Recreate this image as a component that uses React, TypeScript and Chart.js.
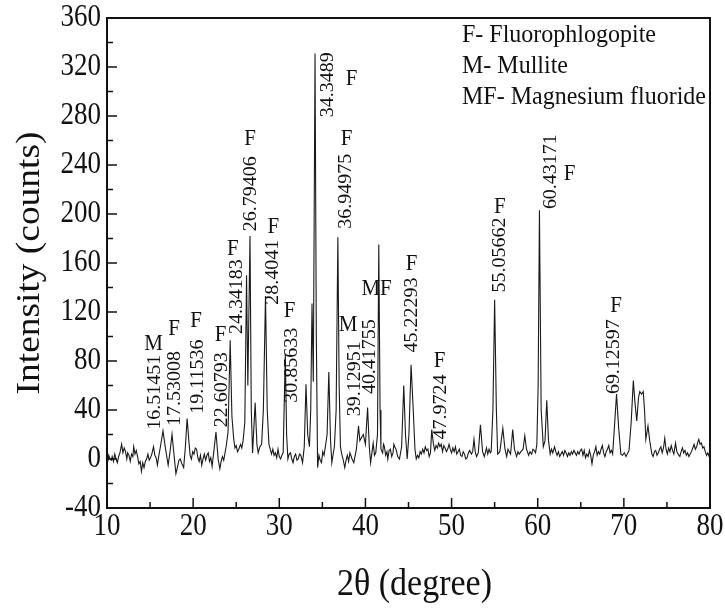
import React, { useEffect, useRef } from "react";
import { Chart, registerables } from "chart.js";
Chart.register(...registerables);

const twoTheta = [
  10.0, 10.1, 10.2, 10.35, 10.5, 10.6, 10.75, 10.9, 11.05, 11.2,
  11.35, 11.5, 11.7, 11.85, 12.0, 12.15, 12.3, 12.4, 12.55, 12.7,
  12.85, 13.0, 13.1, 13.25, 13.4, 13.55, 13.7, 13.85, 14.0, 14.15,
  14.3, 14.45, 14.6, 14.75, 14.9, 15.05, 15.2, 15.4, 15.55, 15.7,
  15.85, 16.0, 16.2, 16.5, 16.8, 17.1, 17.3, 17.55, 17.8, 18.0,
  18.2, 18.35, 18.5, 18.7, 18.9, 19.1, 19.3, 19.5, 19.65, 19.8,
  19.95, 20.1, 20.25, 20.4, 20.55, 20.7, 20.85, 21.0, 21.15, 21.3,
  21.45, 21.6, 21.75, 21.9, 22.05, 22.2, 22.4, 22.65, 22.9, 23.1,
  23.25, 23.4, 23.55, 23.7, 23.85, 24.05, 24.3, 24.5, 24.7, 24.85,
  25.0, 25.15, 25.3, 25.5, 25.65, 25.8, 26.0, 26.2, 26.35, 26.6,
  26.75, 26.9, 27.2, 27.4, 27.55, 27.75, 27.95, 28.15, 28.4, 28.6,
  28.8, 28.95, 29.1, 29.25, 29.4, 29.55, 29.7, 29.85, 30.0, 30.15,
  30.3, 30.45, 30.7, 30.85, 31.0, 31.15, 31.3, 31.45, 31.6, 31.75,
  31.9, 32.05, 32.2, 32.35, 32.5, 32.7, 32.9, 33.1, 33.3, 33.5,
  33.65, 33.8, 33.95, 34.15, 34.3, 34.45, 34.6, 34.75, 34.9, 35.05,
  35.2, 35.35, 35.55, 35.75, 35.95, 36.1, 36.25, 36.4, 36.6, 36.8,
  36.95, 37.1, 37.25, 37.4, 37.6, 37.75, 37.9, 38.05, 38.2, 38.45,
  38.65, 38.95, 39.2, 39.35, 39.5, 39.75, 40.0, 40.25, 40.45, 40.6,
  40.75, 40.9, 41.05, 41.2, 41.4, 41.55, 41.7, 41.8, 42.0, 42.1,
  42.2, 42.35, 42.5, 42.6, 42.75, 42.9, 43.05, 43.2, 43.3, 43.4,
  43.55, 43.75, 43.95, 44.2, 44.45, 44.65, 44.85, 45.05, 45.3, 45.55,
  45.75, 45.9, 46.05, 46.2, 46.35, 46.5, 46.65, 46.8, 46.95, 47.1,
  47.25, 47.4, 47.55, 47.7, 47.9, 48.05, 48.2, 48.35, 48.5, 48.65,
  48.8, 48.95, 49.1, 49.25, 49.4, 49.55, 49.7, 49.85, 50.0, 50.15,
  50.3, 50.45, 50.6, 50.75, 50.9, 51.05, 51.2, 51.35, 51.5, 51.65,
  51.8, 51.95, 52.1, 52.3, 52.45, 52.6, 52.75, 52.9, 53.1, 53.35,
  53.6, 53.8, 53.95, 54.05, 54.2, 54.35, 54.5, 54.6, 54.8, 55.0,
  55.2, 55.35, 55.6, 55.95, 56.2, 56.4, 56.55, 56.7, 56.85, 57.1,
  57.3, 57.55, 57.7, 57.85, 58.05, 58.3, 58.5, 58.7, 58.95, 59.1,
  59.3, 59.45, 59.6, 59.75, 59.9, 60.05, 60.2, 60.4, 60.65, 60.85,
  61.05, 61.25, 61.45, 61.6, 61.75, 61.95, 62.1, 62.25, 62.4, 62.55,
  62.7, 62.85, 63.0, 63.15, 63.3, 63.45, 63.6, 63.75, 63.9, 64.05,
  64.2, 64.35, 64.5, 64.65, 64.8, 64.95, 65.1, 65.25, 65.4, 65.55,
  65.7, 65.85, 66.0, 66.15, 66.3, 66.45, 66.6, 66.75, 66.9, 67.05,
  67.2, 67.35, 67.5, 67.65, 67.8, 67.95, 68.1, 68.25, 68.4, 68.55,
  68.7, 68.85, 69.15, 69.4, 69.65, 69.85, 70.05, 70.25, 70.45, 70.6,
  70.85, 71.1, 71.3, 71.5, 71.7, 71.85, 72.05, 72.25, 72.4, 72.55,
  72.8, 73.0, 73.25, 73.4, 73.55, 73.7, 73.85, 74.0, 74.15, 74.3,
  74.45, 74.6, 74.75, 74.9, 75.05, 75.2, 75.35, 75.5, 75.65, 75.8,
  76.0, 76.15, 76.3, 76.5, 76.65, 76.8, 76.95, 77.1, 77.25, 77.4,
  77.55, 77.7, 77.85, 78.0, 78.15, 78.3, 78.45, 78.6, 78.7, 78.85,
  79.0, 79.15, 79.3, 79.45, 79.6, 79.75, 79.9, 80.0,
];
const intensity = [
  2, -2, 3, 0, -1, 2, -2, 4, 0, -3,
  2, 5, 12, 5, 9, 6, 0, 5, 3, -2,
  4, 2, 10, 4, 7, 2, -4, -2, -10, -3,
  -7, -2, 0, 4, -1, 1, 4, 10, 3, 1,
  -5, 2, 10, 23, 8, -5, 5, 20, 2, -12,
  -6, -1, 0, -4, -7, 10, 33, 15, 3, 0,
  6, 4, 9, 8, 1, -2, 3, -5, 0, 4,
  -1, 3, 5, -2, 1, -6, 6, 22, 0, -8,
  -2, 2, -1, 5, 11, 22, 97, 35, 17, 9,
  11, 6, 8, 12, 9, 15, 30, 150, 60, 182,
  40, 5, 46, 12, 5, 10, 12, 40, 133, 40,
  12, 8, 4, 8, 3, 5, 1, 8, 2, 0,
  3, 5, 86, 20, 0, 4, 5, 0, -3, 2,
  4, -1, 0, 4, 3, -3, 10, 61, 20, 10,
  40, 127, 63, 331, 100, -7, 3, -1, -3, 6,
  3, 10, 20, 71, 15, -3, 4, 10, 40, 181,
  60, 10, 4, 0, -7, -1, 3, -2, 5, 0,
  -3, 8, 27, 15, 17, 20, 12, 42, 10, -3,
  5, 13, 3, 5, 20, 175, 40, 8, 5, 12,
  10, 3, 6, 0, 7, 8, 2, 5, 12, 10,
  8, 2, 0, 10, 60, 20, 0, 20, 77, 40,
  8, 0, 3, 1, 6, 4, 8, 5, 10, 7,
  8, 2, 5, 24, 12, 7, 11, 9, 13, 10,
  12, 6, 11, 9, 6, 8, 12, 8, 5, 9,
  6, 10, 4, 6, 8, 3, 2, 6, 4, 0,
  1, 5, 7, 4, 6, 16, 6, 2, 5, 28,
  6, 2, 6, 9, 4, 8, 5, 6, 40, 130,
  40, 4, 6, 25, 8, 2, 8, 6, 4, 24,
  8, 2, 6, 4, 6, 8, 19, 8, 3, 6,
  4, 8, 7, 5, 12, 60, 203, 40, 10, 15,
  48, 15, 4, 8, 5, 10, 6, 3, 6, 2,
  4, 6, 3, 7, 5, 2, 5, 3, 6, 4,
  7, 5, 3, 6, 4, 7, 8, 3, 7, 1,
  4, 2, 7, 3, -4, 3, 6, 10, 3, 6,
  4, 8, 11, 5, 2, 6, 8, 11, 5, 7,
  4, 20, 53, 25, 4, 3, 5, 2, 5, 7,
  30, 64, 45, 31, 50, 55, 53, 55, 40, 16,
  27, 15, 4, 2, 6, 7, 3, 5, 8, 10,
  5, 9, 17, 8, 4, 9, 6, 11, 7, 4,
  13, 6, 4, 2, 6, 9, 5, 7, 3, 5,
  2, 4, 6, 9, 12, 8, 10, 14, 16, 12,
  13, 9, 10, 6, 3, 5, 2, 0,
];

const xTickValues = [10, 20, 30, 40, 50, 60, 70, 80];
const yTickValues = [-40, 0, 40, 80, 120, 160, 200, 240, 280, 320, 360];

// Peak position labels (text, x in degrees, y in counts where the rotated text starts)
const peakText = ["16.51451", "17.53008", "19.11536", "22.60793", "24.34183", "26.79406", "28.4041", "30.85633",
  "34.3489", "36.94975", "39.12951", "40.41755", "45.22293", "47.9724", "55.05662", "60.43171", "69.12597"];
const peakTextX = [15.6, 17.9, 20.6, 23.3, 25.05, 26.75, 29.3, 31.5, 35.6, 37.8, 38.8, 40.5, 45.4, 48.75, 55.6, 61.6, 68.8];
const peakTextY = [24, 27, 37, 26, 102, 186, 126, 46, 279, 188, 35, 53, 87, 16, 136, 204, 53];

// Phase letters (text, x in degrees, y in counts at centre)
const phaseText = ["M", "F", "F", "F", "F", "F", "F", "F", "F", "F", "M", "MF", "F", "F", "F", "F", "F"];
const phaseX = [15.4, 17.8, 20.35, 23.2, 24.6, 26.6, 29.3, 31.2, 38.4, 37.8, 38.0, 41.3, 45.35, 48.6, 55.6, 63.7, 69.1];
const phaseY = [94, 106, 113, 101, 171, 261, 189, 121, 310, 261, 109, 139, 159, 80, 206, 233, 125];

const legendLines = ["F- Fluorophlogopite", "M- Mullite", "MF- Magnesium fluoride"];
const xTitle = "2θ (degree)";
const yTitle = "Intensity (counts)";

const FONT = "'Liberation Serif', 'Times New Roman', serif";

function drawText(
  ctx: CanvasRenderingContext2D, s: string, x: number, y: number, size: number,
  align: CanvasTextAlign, baseline: CanvasTextBaseline, rot = 0, sy = 1.08
) {
  ctx.save();
  ctx.translate(x, y);
  ctx.scale(1, sy);
  if (rot) ctx.rotate(rot);
  ctx.font = `${size}px ${FONT}`;
  ctx.textAlign = align;
  ctx.textBaseline = baseline;
  ctx.fillStyle = "#111";
  ctx.fillText(s, 0, 0);
  ctx.restore();
}

const decorPlugin = {
  id: "decor",
  afterDatasetsDraw(chart: any) {
    const ctx: CanvasRenderingContext2D = chart.ctx;
    const { left, right, top, bottom } = chart.chartArea;
    const xs = chart.scales.x;
    const ys = chart.scales.y;
    ctx.save();
    ctx.strokeStyle = "#111";
    ctx.lineWidth = 2;
    ctx.strokeRect(left, top, right - left, bottom - top);
    ctx.lineWidth = 1.5;
    for (let v = -40; v <= 360; v += 20) {
      const py = ys.getPixelForValue(v);
      const len = v % 40 === 0 ? 10 : 6;
      ctx.beginPath();
      ctx.moveTo(left, py);
      ctx.lineTo(left + len, py);
      ctx.stroke();
    }
    for (let v = 10; v <= 80; v += 5) {
      const px = xs.getPixelForValue(v);
      const len = v % 10 === 0 ? 10 : 6;
      ctx.beginPath();
      ctx.moveTo(px, bottom);
      ctx.lineTo(px, bottom - len);
      ctx.stroke();
    }
    ctx.restore();
    yTickValues.forEach((v) => {
      drawText(ctx, String(v), left - 6, ys.getPixelForValue(v), 27, "right", "middle", 0, 1.15);
    });
    xTickValues.forEach((v) => {
      drawText(ctx, String(v), xs.getPixelForValue(v), bottom + 3, 27, "center", "top", 0, 1.15);
    });
    drawText(ctx, xTitle, (left + right) / 2 + 6, 585, 34, "center", "middle", 0, 1.1);
    drawText(ctx, yTitle, 30, (top + bottom) / 2, 34, "center", "middle", -Math.PI / 2, 1.1);
    peakText.forEach((t, i) => {
      drawText(ctx, t, xs.getPixelForValue(peakTextX[i]), ys.getPixelForValue(peakTextY[i]), 19, "left", "middle", -Math.PI / 2, 1.05);
    });
    phaseText.forEach((t, i) => {
      drawText(ctx, t, xs.getPixelForValue(phaseX[i]), ys.getPixelForValue(phaseY[i]), 21, "center", "middle", 0, 1.08);
    });
    legendLines.forEach((t, i) => {
      drawText(ctx, t, 462, 35 + i * 31, 24, "left", "middle", 0, 1.05);
    });
  },
};

export default function App() {
  const ref = useRef<HTMLCanvasElement | null>(null);
  useEffect(() => {
    document.body.style.margin = "0";
    const canvas = ref.current;
    if (!canvas) return;
    const points = twoTheta.map((x, i) => ({ x, y: intensity[i] }));
    const chart = new Chart(canvas, {
      type: "scatter",
      data: {
        datasets: [
          {
            data: points,
            showLine: true,
            borderColor: "#1a1a1a",
            borderWidth: 1.1,
            pointRadius: 0,
            tension: 0,
          },
        ],
      },
      options: {
        animation: false,
        responsive: false,
        layout: { padding: { left: 107, right: 15, top: 18, bottom: 101 } },
        plugins: { legend: { display: false }, tooltip: { enabled: false } },
        scales: {
          x: { type: "linear", min: 10, max: 80, display: false },
          y: { type: "linear", min: -40, max: 360, display: false },
        },
      },
      plugins: [decorPlugin],
    });
    return () => chart.destroy();
  }, []);
  return (
    <div style={{ width: 725, height: 609, background: "#fff" }}>
      <canvas ref={ref} width={725} height={609} style={{ display: "block" }} />
    </div>
  );
}
